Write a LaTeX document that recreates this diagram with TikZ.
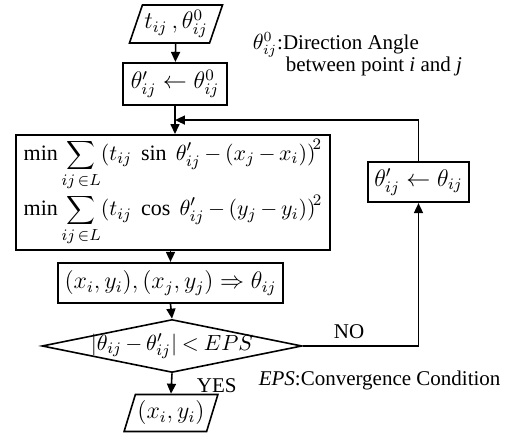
\documentclass[tikz,border=0pt]{standalone}
\usepackage{fontspec}
\setmainfont{Liberation Serif}
\usetikzlibrary{shapes.geometric,arrows.meta,calc}
\newcommand\tightmath{\medmuskip=3mu\relax\thickmuskip=4mu\relax}
\tikzset{
  io/.style={trapezium, trapezium left angle=68, trapezium right angle=112,
    trapezium stretches body, draw, line width=0.8pt, inner sep=1pt},
  proc/.style={rectangle, draw, line width=1.1pt, inner sep=2pt},
  cond/.style={diamond, draw, line width=0.8pt, inner sep=0pt, aspect=4.9},
  note/.style={inner sep=0pt, anchor=west},
  big/.style={font=\fontsize{12}{14}\selectfont},
  mid/.style={font=\fontsize{11}{13}\selectfont}
}
\begin{document}
\begin{tikzpicture}[x=0.5pt, y=-0.5pt, line width=0.8pt, font=\fontsize{10.5}{12.5}\selectfont,
  >={Triangle[length=5pt, width=4.5pt]}]
  \useasboundingbox (0,0) rectangle (516,437);
  % flow on the left
  \node[io, big, minimum width=45pt, minimum height=19pt] (in) at (176,24) {$t_{ij}\,,\theta^0_{ij}$};
  \node[proc, big, minimum width=52pt, minimum height=21pt] (init) at (175,84) {$\theta'_{ij} \leftarrow \theta^0_{ij}$};
  \node[proc, mid, minimum width=157pt, minimum height=55.5pt, align=left] (opt) at (173,192.5)
    {\tightmath$\min\displaystyle\sum_{ij\,\in L}\bigl(t_{ij}\ \sin\ \theta'_{ij}-\bigl(x_j-x_i\bigr)\bigr)^{\!2}$\\[1pt]
     \tightmath$\min\displaystyle\sum_{ij\,\in L}\bigl(t_{ij}\ \cos\ \theta'_{ij}-\bigl(y_j-y_i\bigr)\bigr)^{\!2}$};
  \node[proc, big, minimum width=112.5pt, minimum height=20pt] (calc) at (170.5,283)
    {$(x_i,y_i),(x_j,y_j)\Rightarrow\theta_{ij}$};
  \node[cond, mid, minimum width=130pt, minimum height=26.5pt] (dec) at (172,346)
    {\makebox[0pt]{\tightmath$\bigl|\theta_{ij}-\theta'_{ij}\bigr|<EPS$}};
  \node[io, big, minimum width=42pt, minimum height=18.5pt] (out) at (171,413) {$(x_i,y_i)$};
  % update on the right
  \node[proc, big, minimum width=50.5pt, minimum height=20pt] (upd) at (418.5,182)
    {$\theta'_{ij} \leftarrow \theta_{ij}$};
  % notes
  \node[note] (angle) at (252,45) {$\theta^0_{ij}$:Direction Angle};
  \node[note] (between) at (285,66) {between point \textit{i} and \textit{j}};
  \node[note] (eps) at (258,380) {\textit{EPS}:Convergence Condition};
  % connectors
  \coordinate (join) at ($(init.south)!0.5!(init.south |- opt.north)$);
  \draw[->] (in) -- (init);
  \draw[->] (init.south) -- (init.south |- opt.north);
  \draw[->] (upd.north) |- (join);
  \draw[->] (calc.north |- opt.south) -- (calc.north);
  \draw[->] (calc.south) -- (dec.north);
  \draw[->] (dec.east) -- node[above, pos=0.4] {NO} (dec.east -| upd.south) -- (upd.south);
  \draw[->] (dec.south) -- node[right, pos=0.6, xshift=9pt] {YES} (out.north);
\end{tikzpicture}
\end{document}
